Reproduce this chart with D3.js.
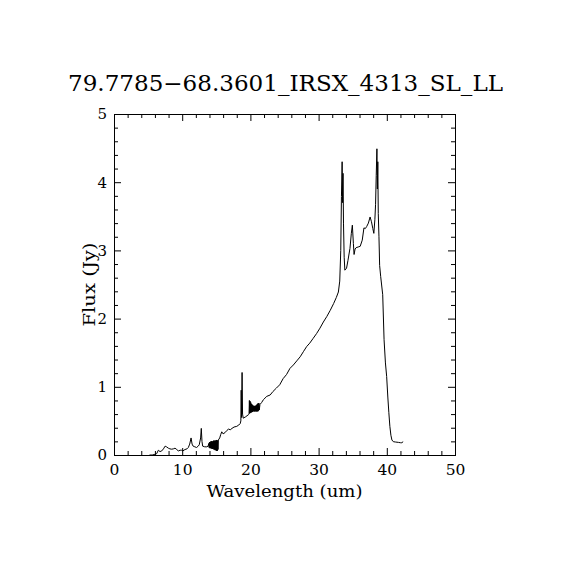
<!DOCTYPE html>
<html>
<head>
<meta charset="utf-8">
<script src="https://cdn.jsdelivr.net/npm/d3@7.9.0/dist/d3.min.js"></script>
<style>
  html, body { margin: 0; padding: 0; background: #fff; }
  text { font-family: "DejaVu Serif", "Liberation Serif", serif; fill: #000; }
</style>
</head>
<body>
<svg id="chart" width="570" height="570"></svg>
<script>
// spectrum (wavelength in um, flux in Jy)
const wavelength = [
  5.2, 5.6, 6.0, 6.26, 6.5, 6.75, 7.0, 7.25, 7.5, 7.7, 7.97, 8.2, 8.46, 8.7, 8.95, 9.2, 9.43, 9.7, 9.9, 10.1,
  10.4, 10.7, 10.9, 11.1, 11.3, 11.45, 11.6, 11.85, 12.1, 12.35, 12.5, 12.7, 12.8, 12.9, 13.0, 13.3, 13.6, 13.8,
  13.90, 13.95, 14.00, 14.05, 14.10, 14.15, 14.20, 14.25, 14.30, 14.35, 14.40, 14.45, 14.50, 14.55, 14.60,
  14.65, 14.70, 14.75, 14.80, 14.85, 14.90, 14.95, 15.00, 15.05, 15.10, 15.15, 15.20, 15.25, 15.30,
  15.5, 15.65, 15.8, 16.0, 16.3, 16.55, 16.8, 17.05, 17.3, 17.6, 18.0, 18.3, 18.5, 18.6, 18.65, 18.7, 18.78,
  18.85, 18.95, 19.3, 19.7,
  19.80, 19.85, 19.90, 19.95, 20.00, 20.05, 20.10, 20.15, 20.20, 20.25, 20.30, 20.35, 20.40, 20.45, 20.50,
  20.55, 20.60, 20.65, 20.70, 20.75, 20.80, 20.85, 20.90, 20.95, 21.00, 21.05, 21.10, 21.15, 21.20, 21.25, 21.30,
  21.4, 21.65, 21.9, 22.4, 22.9, 23.3, 23.8, 24.3, 24.8, 25.3, 25.8, 26.3, 26.8, 27.3, 27.8, 28.25, 28.7,
  29.2, 29.7, 30.2, 30.7, 31.2, 31.7, 32.2, 32.6, 32.9, 33.1, 33.25, 33.35, 33.45, 33.52, 33.58, 33.65,
  33.75, 33.85, 34.1, 34.3, 34.6, 34.8, 34.95, 35.1, 35.2, 35.35, 35.5, 35.8, 36.1, 36.4, 36.65, 36.85,
  37.05, 37.3, 37.55, 37.75, 37.95, 38.1, 38.25, 38.35, 38.45, 38.55, 38.62, 38.68, 38.75, 38.85, 38.95,
  39.1, 39.4, 39.6, 39.8, 39.98, 40.15, 40.3, 40.45, 40.6, 40.75, 40.96, 41.3, 41.7, 42.0, 42.2, 42.4
];
const flux = [
  0.0, 0.0, 0.01, 0.02, 0.07, 0.05, 0.06, 0.09, 0.13, 0.12, 0.10, 0.09, 0.085, 0.09, 0.10, 0.08, 0.06, 0.07, 0.07, 0.06,
  0.08, 0.09, 0.11, 0.16, 0.25, 0.16, 0.13, 0.12, 0.11, 0.13, 0.15, 0.25, 0.39, 0.20, 0.13, 0.12, 0.12, 0.13,
  0.17, 0.11, 0.19, 0.10, 0.19, 0.10, 0.20, 0.10, 0.20, 0.09, 0.20, 0.09, 0.20, 0.09, 0.21,
  0.08, 0.21, 0.08, 0.21, 0.07, 0.21, 0.07, 0.22, 0.06, 0.22, 0.06, 0.21, 0.08, 0.22,
  0.25, 0.30, 0.34, 0.31, 0.33, 0.36, 0.38, 0.37, 0.39, 0.41, 0.42, 0.44, 0.46, 0.50, 0.95, 0.55, 1.21,
  0.60, 0.54, 0.56, 0.59,
  0.60, 0.80, 0.61, 0.79, 0.62, 0.77, 0.62, 0.75, 0.63, 0.74, 0.63, 0.73, 0.64, 0.72, 0.64,
  0.72, 0.64, 0.72, 0.64, 0.72, 0.64, 0.73, 0.64, 0.74, 0.64, 0.75, 0.64, 0.76, 0.65, 0.76, 0.66,
  0.74, 0.77, 0.81, 0.86, 0.88, 0.93, 0.98, 1.03, 1.12, 1.18, 1.27, 1.32, 1.38, 1.44, 1.52, 1.59, 1.64,
  1.71, 1.78, 1.86, 1.95, 2.03, 2.12, 2.22, 2.31, 2.39, 2.55, 3.00, 3.79, 4.30, 3.70, 4.13, 3.40,
  2.90, 2.71, 2.74, 2.85, 3.03, 3.25, 3.37, 3.10, 2.94, 3.02, 3.04, 3.05, 3.06, 3.15, 3.33, 3.32,
  3.35, 3.40, 3.49, 3.42, 3.32, 3.25, 3.45, 3.67, 4.10, 4.49, 3.90, 4.30, 3.54, 3.20, 2.78,
  2.62, 2.35, 1.69, 1.35, 1.15, 0.85, 0.62, 0.42, 0.29, 0.22, 0.195, 0.19, 0.185, 0.18, 0.18, 0.195
];

const xMajor = [0, 10, 20, 30, 40, 50];
const xMinor = [2, 4, 6, 8, 12, 14, 16, 18, 22, 24, 26, 28, 32, 34, 36, 38, 42, 44, 46, 48];
const yMajor = [0, 1, 2, 3, 4, 5];
const yMinor = [0.2, 0.4, 0.6, 0.8, 1.2, 1.4, 1.6, 1.8, 2.2, 2.4, 2.6, 2.8, 3.2, 3.4, 3.6, 3.8, 4.2, 4.4, 4.6, 4.8];

const titleText = "79.7785\u221268.3601_IRSX_4313_SL_LL";
const xLabel = "Wavelength (um)";
const yLabel = "Flux (Jy)";

const plotL = 114, plotR = 455, plotT = 114, plotB = 455;

const svg = d3.select("#chart");

const x = d3.scaleLinear().domain([0, 50]).range([plotL, plotR]);
const y = d3.scaleLinear().domain([0, 5]).range([plotB, plotT]);

const points = wavelength.map((w, i) => [w, flux[i]]);

svg.append("clipPath").attr("id", "plotclip")
  .append("rect")
  .attr("x", plotL).attr("y", plotT)
  .attr("width", plotR - plotL).attr("height", plotB - plotT);

const line = d3.line().x(d => x(d[0])).y(d => y(d[1]));

svg.append("path")
  .datum(points)
  .attr("clip-path", "url(#plotclip)")
  .attr("fill", "none")
  .attr("stroke", "#000")
  .attr("stroke-width", 1)
  .attr("stroke-linejoin", "miter")
  .attr("d", line);

function addAxis(axis, tx, ty, labels) {
  const g = svg.append("g")
    .attr("transform", `translate(${tx},${ty})`)
    .call(axis);
  g.select(".domain").remove();
  g.selectAll(".tick line").attr("stroke", "#000").attr("stroke-width", 1);
  if (!labels) g.selectAll(".tick text").remove();
  return g;
}

// bottom and left carry the labels, top and right just the ticks
const xb = addAxis(d3.axisBottom(x).tickValues(xMajor).tickSize(-7).tickSizeOuter(0).tickPadding(9).tickFormat(d3.format("d")), 0, plotB, true);
xb.selectAll(".tick text").attr("font-size", 15.5).attr("font-family", "DejaVu Serif");
addAxis(d3.axisBottom(x).tickValues(xMinor).tickSize(-4).tickSizeOuter(0).tickFormat(""), 0, plotB, false);
addAxis(d3.axisTop(x).tickValues(xMajor).tickSize(-7).tickSizeOuter(0), 0, plotT, false);
addAxis(d3.axisTop(x).tickValues(xMinor).tickSize(-4).tickSizeOuter(0), 0, plotT, false);

const yl = addAxis(d3.axisLeft(y).tickValues(yMajor).tickSize(-7).tickSizeOuter(0).tickPadding(7).tickFormat(d3.format("d")), plotL, 0, true);
yl.selectAll(".tick text").attr("font-size", 15).attr("font-family", "DejaVu Serif");
addAxis(d3.axisLeft(y).tickValues(yMinor).tickSize(-4).tickSizeOuter(0).tickFormat(""), plotL, 0, false);
addAxis(d3.axisRight(y).tickValues(yMajor).tickSize(-7).tickSizeOuter(0), plotR, 0, false);
addAxis(d3.axisRight(y).tickValues(yMinor).tickSize(-4).tickSizeOuter(0), plotR, 0, false);

svg.append("rect")
  .attr("x", plotL).attr("y", plotT)
  .attr("width", plotR - plotL).attr("height", plotB - plotT)
  .attr("fill", "none").attr("stroke", "#000").attr("stroke-width", 1)
  .attr("shape-rendering", "crispEdges");

svg.append("text")
  .attr("x", 68).attr("y", 91)
  .attr("font-size", 22)
  .attr("textLength", 435).attr("lengthAdjust", "spacingAndGlyphs")
  .text(titleText);

svg.append("text")
  .attr("x", (plotL + plotR) / 2).attr("y", 497)
  .attr("text-anchor", "middle")
  .attr("font-size", 17)
  .attr("textLength", 156).attr("lengthAdjust", "spacingAndGlyphs")
  .text(xLabel);

svg.append("text")
  .attr("transform", `translate(95,${(plotT + plotB) / 2}) rotate(-90)`)
  .attr("text-anchor", "middle")
  .attr("font-size", 17)
  .attr("textLength", 84).attr("lengthAdjust", "spacingAndGlyphs")
  .text(yLabel);
</script>
</body>
</html>
